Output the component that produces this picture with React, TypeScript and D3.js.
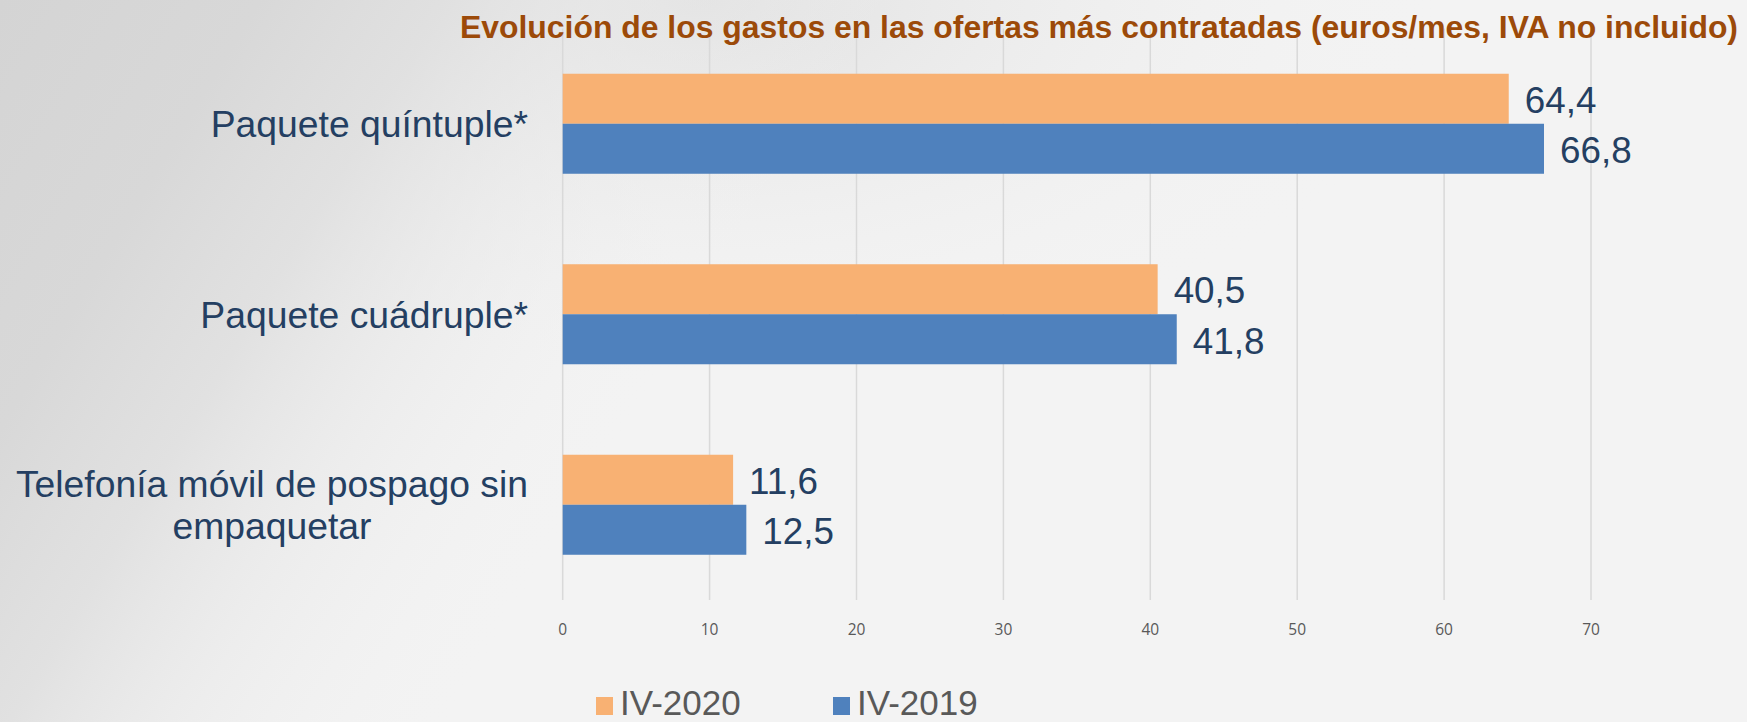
import React, { useEffect, useRef } from 'react';
import * as d3 from 'd3';

const categories = ['quintuple', 'cuadruple', 'movil'];
const categoryLines: string[][] = [
  ['Paquete quíntuple*'],
  ['Paquete cuádruple*'],
  ['Telefonía móvil de pospago sin', 'empaquetar'],
];
const seriesNames = ['IV-2020', 'IV-2019'];
const values2020 = [64.4, 40.5, 11.6];
const values2019 = [66.8, 41.8, 12.5];
const xTicks = [0, 10, 20, 30, 40, 50, 60, 70];
const titleText = 'Evolución de los gastos en las ofertas más contratadas (euros/mes, IVA no incluido)';

const W = 1747;
const H = 722;
const colors = ['#F8B173', '#4F81BD'];
const fmt = (v: number) => v.toFixed(1).replace('.', ',');

export default function App() {
  const ref = useRef<SVGSVGElement | null>(null);

  useEffect(() => {
    const svg = d3.select(ref.current!);
    svg.selectAll('*').remove();

    const defs = svg.append('defs');
    const lg = defs.append('linearGradient').attr('id', 'bgL')
      .attr('x1', 0).attr('y1', 0).attr('x2', 1).attr('y2', 0.25);
    [[0, '#d4d4d4', 1], [0.14, '#d8d8d8', 1], [0.24, '#dfdfdf', 0.9], [0.33, '#e8e8e8', 0.6], [0.48, '#f3f3f3', 0]]
      .forEach(([o, c, a]) => lg.append('stop').attr('offset', o as number).attr('stop-color', c as string).attr('stop-opacity', a as number));
    const rg = defs.append('radialGradient').attr('id', 'bgR')
      .attr('gradientUnits', 'userSpaceOnUse').attr('cx', 700).attr('cy', 0).attr('r', 750)
      .attr('gradientTransform', 'translate(700,0) scale(1,0.5) translate(-700,0)');
    rg.append('stop').attr('offset', 0).attr('stop-color', '#e0e0e0').attr('stop-opacity', 1);
    rg.append('stop').attr('offset', 1).attr('stop-color', '#f3f3f3').attr('stop-opacity', 0);

    svg.append('rect').attr('width', W).attr('height', H).attr('fill', '#f3f3f3');
    svg.append('rect').attr('width', W).attr('height', H).attr('fill', 'url(#bgR)');
    svg.append('rect').attr('width', W).attr('height', H).attr('fill', 'url(#bgL)');

    const x = d3.scaleLinear().domain([0, 70]).range([562.7, 1591]);
    const y = d3.scaleBand<string>().domain(categories).range([28.5, 600])
      .paddingInner(0.475).paddingOuter(0.2375);
    const ys = d3.scaleBand<string>().domain(seriesNames).range([0, y.bandwidth()]).padding(0);

    // gridlines
    svg.append('g').selectAll('line').data(xTicks).join('line')
      .attr('x1', d => x(d)).attr('x2', d => x(d))
      .attr('y1', 28.5).attr('y2', 600)
      .attr('stroke', '#d9d9d9').attr('stroke-width', 1.5);

    // title
    svg.append('text').attr('x', 1099).attr('y', 38)
      .attr('text-anchor', 'middle')
      .attr('font-family', '"Liberation Sans", Arial, sans-serif')
      .attr('font-weight', 'bold').attr('font-size', 31)
      .attr('textLength', 1278).attr('lengthAdjust', 'spacingAndGlyphs')
      .attr('fill', '#9C4A09')
      .text(titleText);

    const series = [values2020, values2019];
    series.forEach((vals, si) => {
      const g = svg.append('g');
      g.selectAll('rect').data(vals).join('rect')
        .attr('x', x(0))
        .attr('y', (_, i) => y(categories[i])! + ys(seriesNames[si])!)
        .attr('width', d => x(d) - x(0))
        .attr('height', ys.bandwidth())
        .attr('fill', colors[si]);
      g.selectAll('text').data(vals).join('text')
        .attr('x', d => x(d) + 16)
        .attr('y', (_, i) => y(categories[i])! + ys(seriesNames[si])! + ys.bandwidth() / 2 + 1)
        .attr('dy', '0.36em')
        .attr('font-family', '"Liberation Sans", Arial, sans-serif')
        .attr('font-size', 36.8)
        .attr('fill', '#243F62')
        .text(d => fmt(d));
    });

    // category labels
    const labelRight = 528;
    const lineGap = 42;
    categoryLines.forEach((lines, i) => {
      const cy = y(categories[i])! + y.bandwidth() / 2;
      const tg = svg.append('g');
      const texts = lines.map((ln, li) =>
        tg.append('text')
          .attr('y', cy + (li - (lines.length - 1) / 2) * lineGap)
          .attr('dy', '0.36em')
          .attr('text-anchor', 'middle')
          .attr('font-family', '"Liberation Sans", Arial, sans-serif')
          .attr('font-size', 37.3)
          .attr('fill', '#243F62')
          .text(ln));
      const maxW = d3.max(texts, t => (t.node() as SVGTextElement).getComputedTextLength()) || 0;
      texts.forEach(t => t.attr('x', labelRight - maxW / 2));
    });

    // x tick labels
    svg.append('g').selectAll('text').data(xTicks).join('text')
      .attr('x', d => x(d)).attr('y', 635)
      .attr('text-anchor', 'middle')
      .attr('font-family', '"Open Sans", sans-serif')
      .attr('font-size', 15.5)
      .attr('fill', '#595959')
      .text(d => String(d));

    // legend
    const legendX = [596, 833];
    seriesNames.forEach((name, i) => {
      svg.append('rect').attr('x', legendX[i]).attr('y', 697).attr('width', 17).attr('height', 18)
        .attr('fill', colors[i]);
      svg.append('text').attr('x', legendX[i] + 24).attr('y', 715)
        .attr('font-family', '"Liberation Sans", Arial, sans-serif')
        .attr('font-size', 35)
        .attr('fill', '#595959')
        .text(name);
    });
  }, []);

  return (
    <svg ref={ref} width={W} height={H}
      style={{ position: 'fixed', left: 0, top: 0, display: 'block' }} />
  );
}
